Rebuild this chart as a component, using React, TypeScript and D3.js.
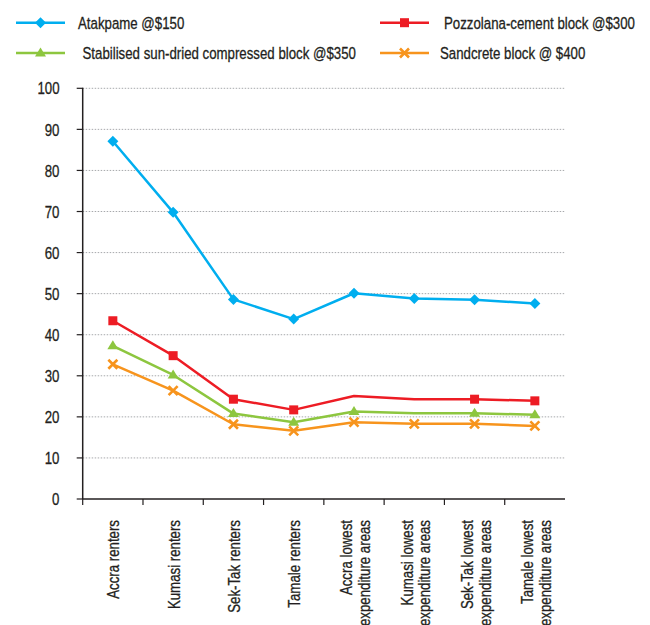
import React from "react";
import * as d3 from "d3";

// Categories along the x axis (multi-line labels split on "\n")
const categories = [
  "Accra renters",
  "Kumasi renters",
  "Sek-Tak renters",
  "Tamale renters",
  "Accra lowest\nexpenditure areas",
  "Kumasi lowest\nexpenditure areas",
  "Sek-Tak lowest\nexpenditure areas",
  "Tamale lowest\nexpenditure areas",
];

// Series values (percent)
const atakpame = [87.1, 69.8, 48.6, 43.8, 50.1, 48.8, 48.5, 47.6];
const pozzolana = [43.4, 34.9, 24.3, 21.7, 25.1, 24.3, 24.3, 23.9];
const stabilised = [37.3, 30.2, 20.8, 18.7, 21.3, 20.9, 20.9, 20.5];
const sandcrete = [32.8, 26.4, 18.2, 16.6, 18.7, 18.3, 18.3, 17.8];

const seriesNames = [
  "Atakpame @$150",
  "Pozzolana-cement block @$300",
  "Stabilised sun-dried compressed block @$350",
  "Sandcrete block @ $400",
];

// Points plotted without a marker, per series
const unmarked: number[][] = [[], [4, 5], [5], []];

const yTicks = [0, 10, 20, 30, 40, 50, 60, 70, 80, 90, 100];

const FONT = "'Liberation Sans', Arial, sans-serif";
const FS = 17;
// horizontal squeeze for a condensed look
const SQ = 0.78;

type Shape = "diamond" | "square" | "triangle" | "x";

const styles: { color: string; shape: Shape }[] = [
  { color: "#00AEEF", shape: "diamond" },
  { color: "#ED1C24", shape: "square" },
  { color: "#8DC63F", shape: "triangle" },
  { color: "#F7941D", shape: "x" },
];

function Marker({ x, y, shape, color }: { x: number; y: number; shape: Shape; color: string }) {
  const t = `translate(${x},${y})`;
  if (shape === "diamond") {
    return <path transform={t} d="M0,-5.5L5.5,0L0,5.5L-5.5,0Z" fill={color} />;
  }
  if (shape === "square") {
    return <rect transform={t} x={-4.5} y={-4.5} width={9} height={9} fill={color} />;
  }
  if (shape === "triangle") {
    return <path transform={t} d="M0,-5.5L5.5,3.5L-5.5,3.5Z" fill={color} />;
  }
  return (
    <path
      transform={t}
      d="M-4.5,-4.5L4.5,4.5M4.5,-4.5L-4.5,4.5"
      stroke={color}
      strokeWidth={2.6}
      fill="none"
    />
  );
}

export default function App() {
  const width = 650;
  const height = 625;
  const left = 82.7;
  const right = 565;
  const top = 88.3;
  const bottom = 499;

  const x = d3.scaleBand<string>().domain(categories).range([left, right]);
  const cx = (c: string) => (x(c) as number) + x.bandwidth() / 2;
  const y = d3.scaleLinear().domain([0, 100]).range([bottom, top]);

  const allSeries = [atakpame, pozzolana, stabilised, sandcrete];

  const line = d3
    .line<number>()
    .x((_, i) => cx(categories[i]))
    .y((d) => y(d));

  const axisColor = "#231F20";
  const textProps = {
    fontSize: FS,
    fill: axisColor,
    stroke: axisColor,
    strokeWidth: 0.3,
  };

  // legend layout: [lineStart, lineEnd, textX, rowY]
  const legendPos = [
    [16, 65, 78, 22.7],
    [380, 429, 444, 22.7],
    [16, 65, 82.5, 53],
    [380, 429, 440, 53],
  ];

  return (
    <svg
      width={width}
      height={height}
      style={{ position: "absolute", left: 0, top: 0, background: "#fff" }}
      fontFamily={FONT}
    >
      <rect width={width} height={height} fill="#fff" />

      {/* gridlines */}
      {yTicks
        .filter((t) => t > 0)
        .map((t) => (
          <line
            key={t}
            x1={left}
            x2={right}
            y1={y(t)}
            y2={y(t)}
            stroke="#A7A9AC"
            strokeWidth={1}
            strokeDasharray="1.5,1.5"
          />
        ))}

      {/* y axis */}
      <line x1={left} x2={left} y1={top - 0.5} y2={bottom} stroke={axisColor} strokeWidth={1.5} />
      {yTicks.map((t) => (
        <g key={t}>
          <line x1={left - 6} x2={left} y1={y(t)} y2={y(t)} stroke={axisColor} strokeWidth={1.2} />
          <text
            transform={`translate(59.5,${y(t)}) scale(${SQ},1)`}
            textAnchor="end"
            dominantBaseline="central"
            {...textProps}
          >
            {t}
          </text>
        </g>
      ))}

      {/* x axis */}
      <line x1={left} x2={right} y1={bottom} y2={bottom} stroke={axisColor} strokeWidth={1.5} />
      {categories.map((c) => (
        <line
          key={c}
          x1={x(c) as number}
          x2={x(c) as number}
          y1={bottom}
          y2={bottom + 6}
          stroke={axisColor}
          strokeWidth={1.2}
        />
      ))}
      {categories.map((c) => {
        const lines = c.split("\n");
        const px = cx(c);
        const offsets = lines.length === 1 ? [6.5] : [-1.7, 16];
        return (
          <g key={c}>
            {lines.map((ln, i) => (
              <text
                key={i}
                transform={`translate(${px + offsets[i]},${520}) rotate(-90) scale(${SQ},1)`}
                textAnchor="end"
                {...textProps}
              >
                {ln}
              </text>
            ))}
          </g>
        );
      })}

      {/* series */}
      {allSeries.map((vals, si) => (
        <g key={si}>
          <path
            d={line(vals) as string}
            fill="none"
            stroke={styles[si].color}
            strokeWidth={2.5}
            strokeLinejoin="round"
          />
          {vals.map((v, i) =>
            unmarked[si].includes(i) ? null : (
              <Marker
                key={i}
                x={cx(categories[i])}
                y={y(v)}
                shape={styles[si].shape}
                color={styles[si].color}
              />
            )
          )}
        </g>
      ))}

      {/* legend */}
      {seriesNames.map((name, si) => {
        const [x1, x2, tx, ry] = legendPos[si];
        return (
          <g key={name}>
            <line x1={x1} x2={x2} y1={ry} y2={ry} stroke={styles[si].color} strokeWidth={2.5} />
            <Marker x={(x1 + x2) / 2} y={ry} shape={styles[si].shape} color={styles[si].color} />
            <text
              transform={`translate(${tx},${ry}) scale(${SQ},1)`}
              dominantBaseline="central"
              {...textProps}
            >
              {name}
            </text>
          </g>
        );
      })}
    </svg>
  );
}
